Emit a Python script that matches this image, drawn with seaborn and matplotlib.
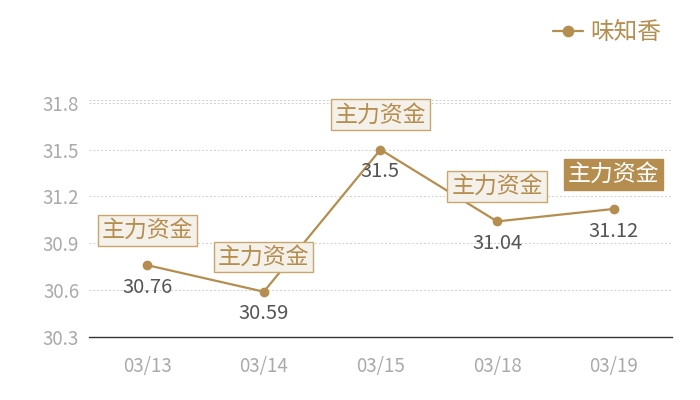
import seaborn as sns
import matplotlib.pyplot as plt
import pandas as pd

dates = ["03/13", "03/14", "03/15", "03/18", "03/19"]
prices = [30.76, 30.59, 31.5, 31.04, 31.12]
tags = ["主力资金", "主力资金", "主力资金", "主力资金", "主力资金"]
highlight = [False, False, False, False, True]
series_name = "味知香"
yticks = [30.3, 30.6, 30.9, 31.2, 31.5, 31.8]

gold = "#b58e4f"
box_face = "#f4f0ea"
box_edge = "#caa66f"

sns.set_theme(style="white")
plt.rcParams['font.family'] = ['Noto Sans CJK SC', 'DejaVu Sans']

df = pd.DataFrame({"date": dates, "price": prices, "name": series_name})

fig, ax = plt.subplots(figsize=(7, 4), dpi=100)
fig.subplots_adjust(left=0.127, right=0.96, bottom=0.1575, top=0.751)

sns.lineplot(data=df, x="date", y="price", hue="name", palette=[gold], marker="o",
             markersize=7, markeredgewidth=0, linewidth=1.6, ax=ax, legend=True)

ax.set_xlim(-0.5, len(dates) - 0.5)
ax.set_ylim(30.3, 31.82)
ax.set_yticks(yticks)
ax.set_yticklabels([f"{v:.1f}" for v in yticks])
ax.set_xlabel("")
ax.set_ylabel("")
ax.tick_params(axis="both", length=0, colors="#aaaaaa", labelsize=13.5)
ax.tick_params(axis="x", pad=14)
ax.tick_params(axis="y", pad=7)
for t in ax.get_xticklabels() + ax.get_yticklabels():
    t.set_color("#aaaaaa")

# dashed grid, with the extra line at the top edge
for v in yticks[1:]:
    ax.axhline(v, color="#cfcfcf", linestyle=(0, (2, 2)), linewidth=0.7, zorder=0)
ax.axhline(31.82, color="#cfcfcf", linestyle=(0, (2, 2)), linewidth=0.7, zorder=0)

for s in ["top", "left", "right"]:
    ax.spines[s].set_visible(False)
ax.spines["bottom"].set_color("#333333")
ax.spines["bottom"].set_linewidth(1.0)

for i, (d, p) in enumerate(zip(dates, prices)):
    ax.annotate(f"{p:g}", (i, p), xytext=(0, -16), textcoords="offset points",
                ha="center", va="center", fontsize=14.5, color="#555555")
    if highlight[i]:
        bbox = dict(boxstyle="square,pad=0.17", facecolor=gold, edgecolor=gold, linewidth=1)
        tc = "white"
    else:
        bbox = dict(boxstyle="square,pad=0.17", facecolor=box_face, edgecolor=box_edge, linewidth=1)
        tc = gold
    ax.annotate(tags[i], (i, p), xytext=(0, 25), textcoords="offset points",
                ha="center", va="center", fontsize=16.5, color=tc, bbox=bbox, zorder=5)

ax.get_legend().remove()
h, l = ax.get_legend_handles_labels()
fig.legend(h, l, loc="upper right", bbox_to_anchor=(0.975, 1.0), frameon=False,
           handlelength=1.3, handletextpad=0.3, labelcolor=gold, prop={"size": 17},
           markerscale=1.2)

fig.savefig("out.png", dpi=100)
